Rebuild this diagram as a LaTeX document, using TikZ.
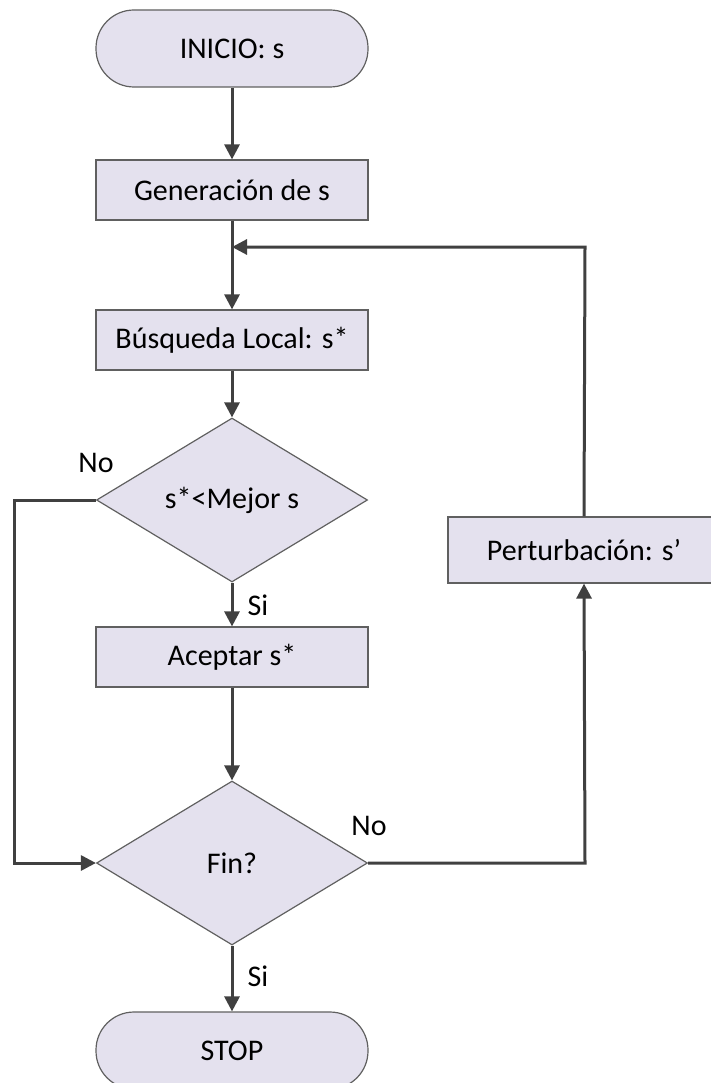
\documentclass[tikz,border=0pt]{standalone}
\usepackage{fontspec}
\setmainfont{Carlito}
\usetikzlibrary{shapes.geometric,arrows.meta}
\definecolor{boxfill}{HTML}{E4E1EE}
\definecolor{boxline}{HTML}{606060}
\definecolor{flowline}{HTML}{404040}
\begin{document}
\begin{tikzpicture}[x=1pt,y=-1pt,
  every node/.style={font=\fontsize{30}{36}\selectfont},
  terminal/.style={draw=boxline,line width=1.2pt,fill=boxfill,rectangle,rounded corners=38pt,
    minimum width=272pt,minimum height=77pt,inner sep=0pt},
  process/.style={draw=boxline,line width=1.2pt,fill=boxfill,rectangle,
    minimum width=272pt,minimum height=60pt,inner sep=0pt},
  decision/.style={draw=boxline,line width=1.2pt,fill=boxfill,diamond,aspect=1.65,
    minimum width=271pt,minimum height=164pt,inner sep=0pt},
  flow/.style={draw=flowline,line width=3pt,-{Triangle[length=15pt,width=15pt]}},
  plain/.style={draw=flowline,line width=3pt},
  lbl/.style={inner sep=0pt}]
\useasboundingbox (0,0) rectangle (710,1083);

% nodes of the flow chart
\node[terminal] (inicio) at (232,48.5) {INICIO: s};
\node[process]  (gen)    at (232,190)  {Generación de s};
\node[process]  (bus)    at (232,340)  {Búsqueda Local: s*};
\node[decision] (d1)     at (232,500)  {s*<Mejor s};
\node[process]  (acc)    at (232,657)  {Aceptar s*};
\node[decision] (d2)     at (232,863)  {Fin?};
\node[process,minimum height=66pt] (pert) at (584,550) {Perturbación: s’};
\node[terminal] (stop)   at (232,1050.5) {STOP};

% bend points
\coordinate (join) at (232,247);
\coordinate (lefttop) at (14,500);
\coordinate (leftbot) at (14,863);
\coordinate (rightbot) at (585,863);
\coordinate (righttop) at (585,247);

% main flow
\draw[flow] (inicio.south) -- (gen.north);
\draw[plain] (gen.south) -- (join);
\draw[flow] (join) -- (bus.north);
\draw[flow] (bus.south) -- (d1.north);
\draw[flow] (d1.south) -- (acc.north);
\draw[flow] (acc.south) -- (d2.north);
\draw[flow] (d2.south) -- (stop.north);

% branches
\draw[flow] (d1.west) -- (lefttop) -- (leftbot) -- (d2.west);
\draw[flow] (d2.east) -- (rightbot) -- (pert.south);
\draw[flow] (pert.north) -- (righttop) -- (join);

% branch labels
\node[lbl] (no1) at (96,463) {No};
\node[lbl] (si1) at (258,605) {Si};
\node[lbl] (no2) at (369,826) {No};
\node[lbl] (si2) at (258,976) {Si};
\end{tikzpicture}
\end{document}
